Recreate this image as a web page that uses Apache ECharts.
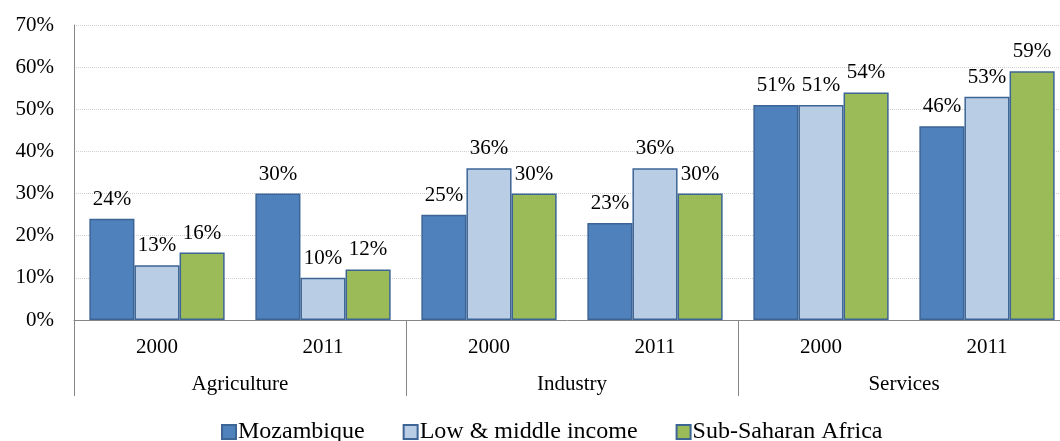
<!DOCTYPE html>
<html>
<head>
<meta charset="utf-8">
<script src="https://cdn.jsdelivr.net/npm/echarts@6/dist/echarts.min.js"></script>
<style>html,body{margin:0;padding:0;background:#fff}#c{width:1060px;height:441px}</style>
</head>
<body>
<div id="c"></div>
<script>
var years = ['2000', '2011', '2000', '2011', '2000', '2011'];
var sectors = ['Agriculture', 'Industry', 'Services'];
var seriesNames = ['Mozambique', 'Low & middle income', 'Sub-Saharan Africa'];
var mozambique = [24, 30, 25, 23, 51, 46];
var lowMiddle = [13, 10, 36, 36, 51, 53];
var subSaharan = [16, 12, 30, 30, 54, 59];
var yTicks = [0, 10, 20, 30, 40, 50, 60, 70];

var font = 'Liberation Serif';
var colors = ['#4f81bd', '#b9cde5', '#9bbb59'];
var values = [mozambique, lowMiddle, subSaharan];

var chart = echarts.init(document.getElementById('c'), null, {renderer: 'canvas'});
chart.setOption({
  animation: false,
  textStyle: {fontFamily: font},
  grid: {left: 74, width: 996, top: 25, bottom: 121, containLabel: false, outerBoundsMode: 'none'},
  legend: {
    left: 221, top: 420, padding: 0,
    icon: 'rect',
    itemWidth: 14, itemHeight: 14, itemGap: 38,
    textStyle: {fontFamily: font, fontSize: 24, color: '#000', padding: [0, 0, 0, -3]},
    data: seriesNames
  },
  xAxis: [{
    type: 'category', data: years, position: 'bottom',
    axisLine: {show: true, lineStyle: {color: '#868686', width: 1}},
    axisTick: {show: false},
    axisLabel: {fontFamily: font, fontSize: 21, color: '#000', margin: 17}
  }, {
    type: 'category', data: sectors, position: 'bottom',
    axisLine: {show: false},
    axisTick: {show: true, length: 76, lineStyle: {color: '#868686', width: 1}},
    axisLabel: {fontFamily: font, fontSize: 21, color: '#000', margin: 54},
    splitLine: {show: false}
  }],
  yAxis: {
    type: 'value', min: yTicks[0], max: yTicks[yTicks.length - 1], interval: 10,
    axisLine: {show: true, lineStyle: {color: '#868686', width: 1}},
    axisTick: {show: false},
    axisLabel: {fontFamily: font, fontSize: 21, color: '#000', margin: 20, formatter: '{value}%'},
    splitLine: {show: true, lineStyle: {color: '#d0d0d0', type: 'dotted', width: 1}}
  },
  series: seriesNames.map(function (n, i) {
    return {
      name: n, type: 'bar', xAxisIndex: 0, data: values[i],
      barGap: '0%', barCategoryGap: '18.5%',
      itemStyle: {color: colors[i], borderColor: '#3c6494', borderWidth: 1.5},
      label: {show: true, position: 'top', distance: 9, fontFamily: font, fontSize: 21, color: '#000', formatter: '{c}%'}
    };
  })
});
</script>
</body>
</html>
